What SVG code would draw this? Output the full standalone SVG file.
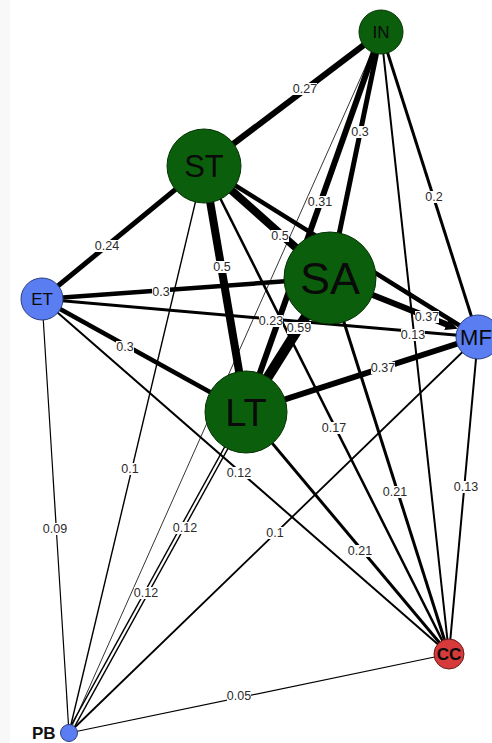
<svg xmlns="http://www.w3.org/2000/svg" width="492" height="743" viewBox="0 0 492 743">
<style>
.e{stroke:#000;fill:none;stroke-linecap:butt}
.lb rect{fill:#fff}
.lb text{font-family:"Liberation Sans",Arial,sans-serif;font-size:12.5px;fill:#2b2b2b;text-anchor:middle}
.g{fill:#0b5e0b;stroke:#063306;stroke-width:1}
.b{fill:#5a7ef2;stroke:#2a3f80;stroke-width:1}
.r{fill:#d63a3a;stroke:#6a1a1a;stroke-width:1}
.nt{font-family:"Liberation Sans",Arial,sans-serif;fill:#0a0a0a;text-anchor:middle}
</style>
<defs>
<marker id="arr" viewBox="0 0 12 12" refX="4" refY="6" markerWidth="12" markerHeight="12" markerUnits="userSpaceOnUse" orient="auto">
<path d="M0,0 L12,6 L0,12 z" fill="#000"/>
</marker>
</defs>
<rect x="0" y="0" width="492" height="743" fill="#fff"/>
<rect x="0" y="0" width="10" height="743" fill="#f8f8f8"/>
<g id="connectors">
<line class="e" x1="381" y1="32" x2="69" y2="733" stroke-width="0.8"/>
<line class="e" x1="449" y1="654" x2="69" y2="733" stroke-width="1.2"/>
<line class="e" x1="42" y1="299" x2="69" y2="733" stroke-width="1.2"/>
<line class="e" x1="204" y1="166" x2="69" y2="733" stroke-width="1.4"/>
<line class="e" x1="478" y1="337" x2="69" y2="733" stroke-width="1.8"/>
<line class="e" x1="247.6" y1="412.9" x2="70.6" y2="733.9" stroke-width="1.4"/>
<line class="e" x1="244.4" y1="411.1" x2="67.4" y2="732.1" stroke-width="1.4"/>
<line class="e" x1="42" y1="299" x2="449" y2="654" stroke-width="2"/>
<line class="e" x1="478" y1="337" x2="449" y2="654" stroke-width="2"/>
<line class="e" x1="381" y1="32" x2="449" y2="654" stroke-width="2"/>
<line class="e" x1="204" y1="166" x2="449" y2="654" stroke-width="2.5"/>
<line class="e" x1="330" y1="278" x2="449" y2="654" stroke-width="3"/>
<line class="e" x1="246" y1="412" x2="449" y2="654" stroke-width="3"/>
<line class="e" x1="381" y1="32" x2="478" y2="337" stroke-width="3"/>
<line class="e" x1="42" y1="299" x2="478" y2="337" stroke-width="3"/>
<line class="e" x1="42" y1="299" x2="330" y2="278" stroke-width="4.5"/>
<line class="e" x1="42" y1="299" x2="246" y2="412" stroke-width="4.5"/>
<line class="e" x1="42" y1="299" x2="204" y2="166" stroke-width="5"/>
<line class="e" x1="204" y1="166" x2="478" y2="337" stroke-width="4.5"/>
<line class="e" x1="381" y1="32" x2="204" y2="166" stroke-width="6"/>
<line class="e" x1="381" y1="32" x2="330" y2="278" stroke-width="5"/>
<line class="e" x1="381" y1="32" x2="246" y2="412" stroke-width="6"/>
<line class="e" x1="246" y1="412" x2="478" y2="337" stroke-width="6"/>
<line class="e" x1="330" y1="278" x2="450.2" y2="325.9" stroke-width="6" marker-end="url(#arr)"/>
<line class="e" x1="204" y1="166" x2="330" y2="278" stroke-width="8"/>
<line class="e" x1="204" y1="166" x2="246" y2="412" stroke-width="8"/>
<line class="e" x1="330" y1="278" x2="246" y2="412" stroke-width="10"/>
</g>
<g id="edge-labels">
<g class="lb"><rect x="293" y="83" width="24" height="12"/><text x="305" y="93">0.27</text></g>
<g class="lb"><rect x="351" y="126" width="18" height="12"/><text x="360" y="136">0.3</text></g>
<g class="lb"><rect x="308" y="196" width="24" height="12"/><text x="320" y="206">0.31</text></g>
<g class="lb"><rect x="425" y="191" width="18" height="12"/><text x="434" y="201">0.2</text></g>
<g class="lb"><rect x="95" y="240" width="24" height="12"/><text x="107" y="250">0.24</text></g>
<g class="lb"><rect x="152" y="286" width="18" height="12"/><text x="161" y="296">0.3</text></g>
<g class="lb"><rect x="116" y="341" width="18" height="12"/><text x="125" y="351">0.3</text></g>
<g class="lb"><rect x="271" y="230" width="18" height="12"/><text x="280" y="240">0.5</text></g>
<g class="lb"><rect x="213" y="261" width="18" height="12"/><text x="222" y="271">0.5</text></g>
<g class="lb"><rect x="259" y="315" width="24" height="12"/><text x="271" y="325">0.23</text></g>
<g class="lb"><rect x="287" y="322" width="24" height="12"/><text x="299" y="332">0.59</text></g>
<g class="lb"><rect x="415" y="311" width="24" height="12"/><text x="427" y="321">0.37</text></g>
<g class="lb"><rect x="401" y="329" width="24" height="12"/><text x="413" y="339">0.13</text></g>
<g class="lb"><rect x="371" y="362" width="24" height="12"/><text x="383" y="372">0.37</text></g>
<g class="lb"><rect x="322" y="422" width="24" height="12"/><text x="334" y="432">0.17</text></g>
<g class="lb"><rect x="383" y="486" width="24" height="12"/><text x="395" y="496">0.21</text></g>
<g class="lb"><rect x="454" y="481" width="24" height="12"/><text x="466" y="491">0.13</text></g>
<g class="lb"><rect x="348" y="545" width="24" height="12"/><text x="360" y="555">0.21</text></g>
<g class="lb"><rect x="266" y="527" width="18" height="12"/><text x="275" y="537">0.1</text></g>
<g class="lb"><rect x="227" y="467" width="24" height="12"/><text x="239" y="477">0.12</text></g>
<g class="lb"><rect x="173" y="522" width="24" height="12"/><text x="185" y="532">0.12</text></g>
<g class="lb"><rect x="134" y="587" width="24" height="12"/><text x="146" y="597">0.12</text></g>
<g class="lb"><rect x="121" y="463" width="18" height="12"/><text x="130" y="473">0.1</text></g>
<g class="lb"><rect x="43" y="523" width="24" height="12"/><text x="55" y="533">0.09</text></g>
<g class="lb"><rect x="227" y="690" width="24" height="12"/><text x="239" y="700">0.05</text></g>
</g>
<g id="node-IN"><circle class="g" cx="381" cy="32" r="22"/><text class="nt" x="381" y="38" font-size="17">IN</text></g>
<g id="node-ST"><circle class="g" cx="204" cy="166" r="37"/><text class="nt" x="204" y="177" font-size="31">ST</text></g>
<g id="node-SA"><circle class="g" cx="330" cy="278" r="46"/><text class="nt" x="330" y="294" font-size="45">SA</text></g>
<g id="node-LT"><circle class="g" cx="246" cy="412" r="41"/><text class="nt" x="246" y="426" font-size="38">LT</text></g>
<g id="node-ET"><circle class="b" cx="42" cy="299" r="21"/><text class="nt" x="42" y="305" font-size="17">ET</text></g>
<g id="node-MF"><circle class="b" cx="478" cy="337" r="22"/><text class="nt" x="476" y="345" font-size="22">MF</text></g>
<g id="node-CC"><circle class="r" cx="449" cy="654" r="15"/><text class="nt" x="449" y="660" font-size="17" font-weight="bold">CC</text></g>
<g id="node-PB"><circle class="b" cx="69" cy="733" r="8.5"/><text x="32" y="739" font-family="Liberation Sans, Arial, sans-serif" font-size="17" font-weight="bold" fill="#111">PB</text></g>
</svg>
